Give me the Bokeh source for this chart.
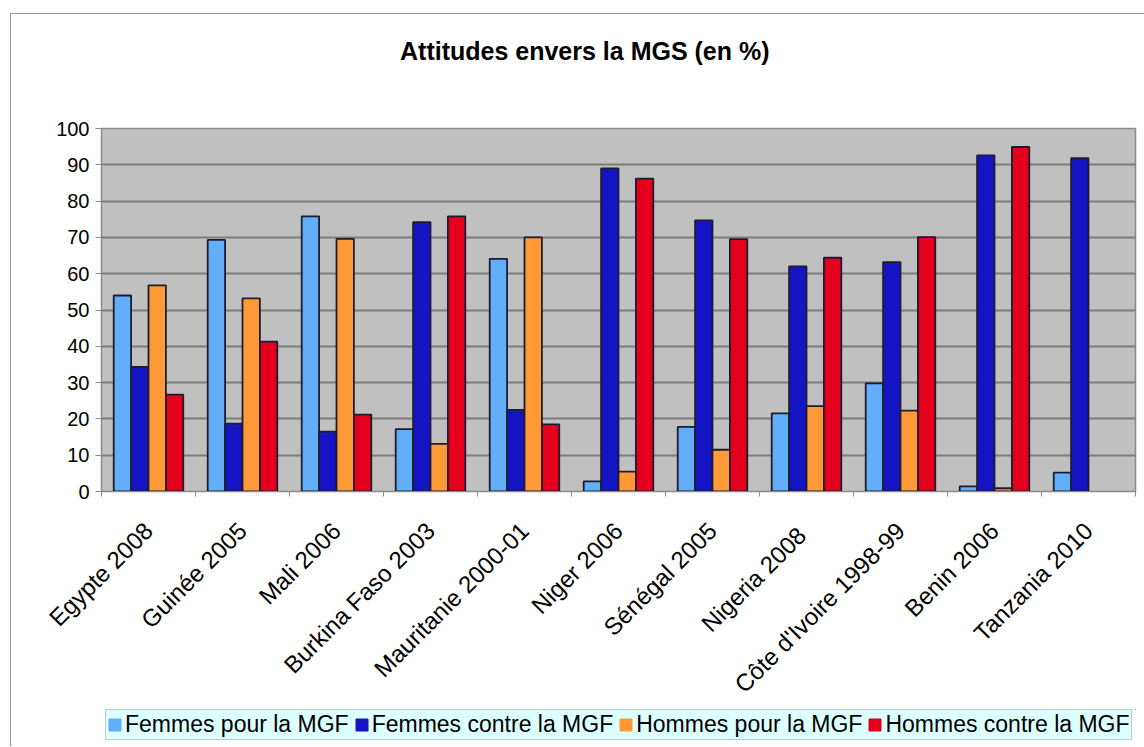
from bokeh.plotting import figure
from bokeh.layouts import column
from bokeh.models import ColumnDataSource, FixedTicker, Legend, LegendItem, Range1d
from bokeh.core.properties import value
from bokeh.embed import file_html
from bokeh.resources import INLINE
from math import pi

nan = float("nan")
title_text = "Attitudes envers la MGS (en %)"
countries = ["Egypte 2008", "Guinée 2005", "Mali 2006", "Burkina Faso 2003",
             "Mauritanie 2000-01", "Niger 2006", "Sénégal 2005", "Nigeria  2008",
             "Côte d'Ivoire 1998-99", "Benin 2006", "Tanzania 2010"]
femmes_pour = [54, 69.3, 75.8, 17.2, 64.1, 2.8, 17.8, 21.5, 29.8, 1.4, 5.2]
femmes_contre = [34.3, 18.7, 16.5, 74.2, 22.5, 89.0, 74.7, 62.0, 63.2, 92.6, 91.8]
hommes_pour = [56.8, 53.2, 69.6, 13.1, 70.0, 5.5, 11.5, 23.5, 22.3, 0.9, nan]
hommes_contre = [26.7, 41.3, 21.2, 75.8, 18.5, 86.2, 69.5, 64.4, 70.1, 94.9, nan]
series_names = ["Femmes pour la MGF", "Femmes contre la MGF",
                "Hommes pour la MGF", "Hommes contre la MGF"]
series_values = [femmes_pour, femmes_contre, hommes_pour, hommes_contre]
colors = ["#62aef8", "#1414c4", "#ff9a36", "#e4001c"]
y_ticks = list(range(0, 101, 10))

FONT = "Liberation Sans"
W = 1134
TOP_H = 100
BOTTOM = 262
LEG_H = 36

# --- title strip ---
t = figure(width=W, height=TOP_H, output_backend="svg", toolbar_location=None,
           x_range=Range1d(0, W), y_range=Range1d(0, TOP_H),
           min_border=0, x_axis_location=None, y_axis_location=None)
t.grid.visible = False
t.outline_line_color = None
t.background_fill_color = "#ffffff"
t.border_fill_color = "#ffffff"
t.text(x=[W / 2 - 37], y=[TOP_H - 36], text=[title_text], text_font=value(FONT),
       text_font_size="25px", text_font_style="bold", text_align="center",
       text_baseline="middle", text_color="#000000")

# --- chart ---
p = figure(frame_width=1034, frame_height=363, output_backend="svg",
           toolbar_location=None, x_range=Range1d(-0.5, len(countries) - 0.5),
           y_range=Range1d(0, 100),
           min_border_left=90, min_border_right=10, min_border_top=14,
           min_border_bottom=BOTTOM)

p.background_fill_color = "#c0c0c0"
p.border_fill_color = "#ffffff"
p.outline_line_color = "#8a8a8a"
p.outline_line_width = 1.5

bw = 0.185
x_idx = list(range(len(countries)))
for k, (name, vals, col) in enumerate(zip(series_names, series_values, colors)):
    src = ColumnDataSource(dict(x=[i + (k - 1.5) * bw for i in x_idx], top=vals))
    p.vbar(x="x", top="top", width=bw, bottom=0, source=src, fill_color=col,
           line_color="#1c1c30", line_width=1.8)

p.xgrid.visible = False
p.ygrid.ticker = FixedTicker(ticks=y_ticks)
p.ygrid.grid_line_color = "#7c7c7c"
p.ygrid.grid_line_width = 1.8

p.yaxis.ticker = FixedTicker(ticks=y_ticks)
p.yaxis.major_label_text_font = FONT
p.yaxis.major_label_text_font_size = "20px"
p.yaxis.major_label_text_color = "#000000"
p.yaxis.axis_line_color = "#8a8a8a"
p.yaxis.major_tick_line_color = "#8a8a8a"
p.yaxis.major_tick_out = 6
p.yaxis.major_tick_in = 0
p.yaxis.minor_tick_line_color = None
p.yaxis.major_label_standoff = 6

p.xaxis.ticker = FixedTicker(ticks=x_idx, minor_ticks=[i - 0.5 for i in range(len(countries) + 1)])
p.xaxis.major_label_overrides = {i: c for i, c in enumerate(countries)}
p.xaxis.major_label_orientation = pi / 4
p.xaxis.major_label_text_font = FONT
p.xaxis.major_label_text_font_size = "24px"
p.xaxis.major_label_text_color = "#000000"
p.xaxis.major_tick_in = 0
p.xaxis.major_tick_out = 0
p.xaxis.minor_tick_in = 0
p.xaxis.minor_tick_out = 5
p.xaxis.minor_tick_line_color = "#8a8a8a"
p.xaxis.axis_line_color = "#8a8a8a"
p.xaxis.major_label_standoff = 30

# --- legend strip (overlaps the empty bottom margin of the chart) ---
lg = figure(width=W, height=LEG_H, output_backend="svg", toolbar_location=None,
            x_range=Range1d(0, 1), y_range=Range1d(0, 1),
            min_border=0, x_axis_location=None, y_axis_location=None)
lg.grid.visible = False
lg.outline_line_color = None
lg.background_fill_alpha = 0
lg.border_fill_alpha = 0
items = []
for name, col in zip(series_names, colors):
    # single point placed outside the strip's range: only its legend swatch shows
    r = lg.vbar(x=[5], top=[5], bottom=[4], width=0.1, fill_color=col, line_color=col)
    items.append(LegendItem(label=name, renderers=[r]))
legend = Legend(items=items, orientation="horizontal", location=(4, 5),
                label_text_font=FONT, label_text_font_size="23px",
                label_text_color="#000000", glyph_width=15, glyph_height=15,
                label_standoff=3, spacing=5, padding=1, margin=0,
                background_fill_color="#dcffff", background_fill_alpha=1,
                border_line_color="#9a9a9a", border_line_width=1.5)
lg.add_layout(legend, "center")

chart_bottom = 13 + TOP_H + 14 + 363 + BOTTOM
lg.margin = (708 - chart_bottom, 0, 0, 0)

layout = column(t, p, lg, spacing=0)
layout.margin = (13, 0, 0, 10)
layout.styles = {"border": "1px solid #9a9a9a"}

open("out.html", "w").write(file_html(layout, INLINE))
